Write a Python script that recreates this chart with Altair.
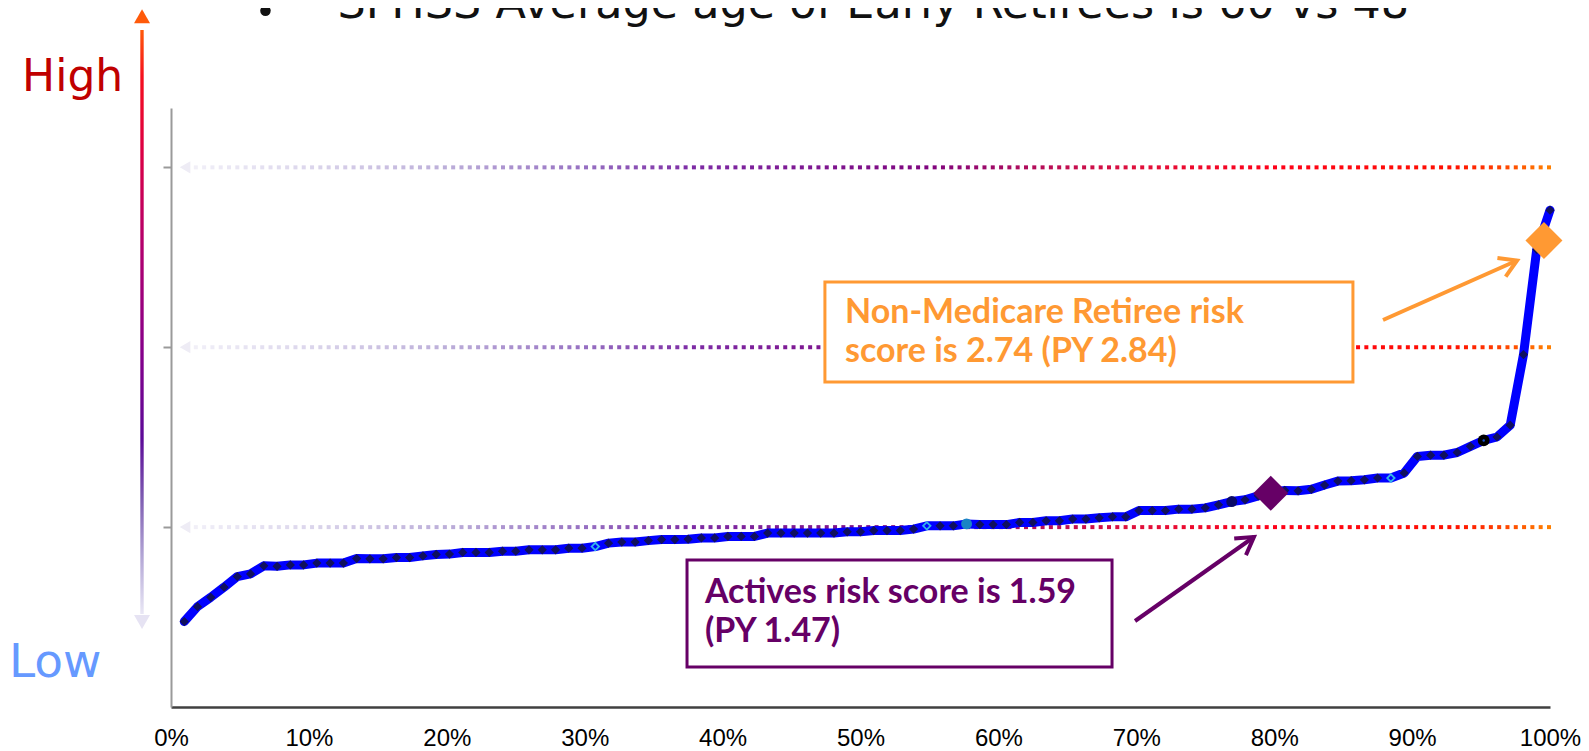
import altair as alt
import numpy as np
import pandas as pd

# ---------------- data ----------------
# risk curve: one value per ranked point (104 points, evenly spaced 1..100%)
risk_values = [
    0.475, 0.558, 0.610, 0.666, 0.725, 0.740, 0.785, 0.782, 0.790, 0.790,
    0.800, 0.800, 0.800, 0.825, 0.824, 0.824, 0.831, 0.831, 0.840, 0.848,
    0.850, 0.859, 0.859, 0.859, 0.866, 0.866, 0.874, 0.874, 0.874, 0.883,
    0.883, 0.892, 0.911, 0.917, 0.917, 0.925, 0.931, 0.931, 0.933, 0.940,
    0.940, 0.948, 0.948, 0.948, 0.967, 0.967, 0.967, 0.967, 0.967, 0.967,
    0.974, 0.974, 0.981, 0.981, 0.981, 0.989, 1.007, 1.007, 1.007, 1.018,
    1.014, 1.014, 1.014, 1.026, 1.026, 1.035, 1.035, 1.045, 1.045, 1.052,
    1.057, 1.057, 1.092, 1.092, 1.092, 1.100, 1.100, 1.107, 1.124, 1.142,
    1.152, 1.174, 1.191, 1.204, 1.202, 1.210, 1.234, 1.256, 1.258, 1.263,
    1.273, 1.273, 1.301, 1.393, 1.400, 1.400, 1.415, 1.449, 1.482, 1.501,
    1.567, 1.959, 2.543, 2.762,
]
hollow_idx = [32, 57, 92]
lightblue_idx = [60]
navy_idx = [80]
black_idx = [99]

x_ticks = [0.0, 0.1, 0.2, 0.3, 0.4, 0.5, 0.6, 0.7, 0.8, 0.9, 1.0]
y_ticks = [1, 2, 3]
band_levels = [1, 2, 3]

marker_names = ["Actives", "Non-Medicare Retiree"]
marker_pct = [0.7975, 0.9956]
marker_risk = [1.188, 2.593]

title_text = "SFHSS Average age of Early Retirees is 60 vs 48"
orange_lines = ["Non-Medicare Retiree risk", "score is 2.74 (PY 2.84)"]
purple_lines = ["Actives risk score is 1.59", "(PY 1.47)"]

# ---------------- styling ----------------
W, H = 1379, 599
xs = alt.Scale(domain=[0, 1], nice=False, zero=False)
ys = alt.Scale(domain=[0, 3.33], nice=False, zero=False)
x_axis = alt.Axis(values=x_ticks, format=".0%", title=None, grid=False, ticks=True,
                  tickSize=0, domainColor="#404040", domainWidth=2.5,
                  labelFont="Liberation Sans", labelFontSize=24, labelColor="#000000",
                  labelPadding=38, labelBaseline="alphabetic", labelFlush=False,
                  labelOverlap=False, labelBound=False)
y_axis = alt.Axis(values=y_ticks, labels=False, title=None, grid=False,
                  domainColor="#9a9a9a", domainWidth=2, tickColor="#9a9a9a",
                  tickWidth=2, tickSize=8)


def X(f):
    return alt.X(f, type="quantitative", scale=xs, axis=x_axis)


def Y(f):
    return alt.Y(f, type="quantitative", scale=ys, axis=y_axis)


N = len(risk_values)
curve = pd.DataFrame({"pct": [(i + 1) / N for i in range(N)],
                      "risk": risk_values, "k": list(range(1, N + 1))})
special = hollow_idx + lightblue_idx + navy_idx + black_idx

# dotted gradient reference lines (dots drawn as small squares)
grad_offsets = [0.0, 0.1, 0.2, 0.3, 0.38, 0.55, 0.62, 0.7, 0.8, 0.93, 0.97, 1.0]
grad_colors = ["#f5f4fa", "#dcd6ec", "#bcaed9", "#9670c2", "#7d2aa4", "#7f057f",
               "#b00d5c", "#e0103c", "#ff0018", "#ff1000", "#ff4a00", "#ff8000"]
dot_x = np.arange(0.018, 1.0017, 0.00602)
dots = pd.DataFrame([(x, lv) for lv in band_levels for x in dot_x], columns=["x", "level"])

dots_layer = alt.Chart(dots).mark_square(size=16, opacity=1, filled=True).encode(
    X("x"), Y("level"),
    color=alt.Color("x:Q", scale=alt.Scale(domain=grad_offsets, range=grad_colors,
                                           interpolate="rgb"), legend=None))
heads_left = alt.Chart(pd.DataFrame({"x": [0.0102] * 3, "level": band_levels})).mark_point(
    shape="triangle-left", filled=True, size=150, color="#eeecf5", opacity=1).encode(
    X("x"), Y("level"))


def box(x1, x2, y1, y2, col):
    return alt.Chart(pd.DataFrame({"x1": [x1], "x2": [x2], "y1": [y1], "y2": [y2]})).mark_rect(
        fill="white", stroke=col, strokeWidth=3).encode(
        X("x1"), alt.X2("x2"), Y("y1"), alt.Y2("y2"))


orange_box = box(0.4742, 0.8571, 1.8066, 2.3624, "#ff9933")
purple_box = box(0.3742, 0.6824, 0.2223, 0.8171, "#660066")

line = alt.Chart(curve).mark_line(color="#0000ff", strokeWidth=9, strokeCap="round",
                                  strokeJoin="round").encode(X("pct"), Y("risk"))
diam = alt.Chart(curve).transform_filter(
    ~alt.FieldOneOfPredicate(field="k", oneOf=special)).mark_point(
    shape="diamond", filled=True, size=85, color="#10105e", opacity=1).encode(X("pct"), Y("risk"))


def special_layer(idx, **kw):
    return alt.Chart(curve).transform_filter(
        alt.FieldOneOfPredicate(field="k", oneOf=idx)).mark_point(opacity=1, **kw).encode(
        X("pct"), Y("risk"))


hollow = special_layer(hollow_idx, shape="diamond", filled=False, size=55,
                       color="#33b5e8", strokeWidth=1.8)
lblue = special_layer(lightblue_idx, shape="circle", filled=True, size=120, color="#1a84c4")
navy = special_layer(navy_idx, shape="circle", filled=True, size=120, color="#0a0a66")
blk = special_layer(black_idx, shape="circle", filled=True, size=140, color="#000000")
blk_c = special_layer(black_idx, shape="circle", filled=True, size=6, color="#1a50d0")

big_p = alt.Chart(pd.DataFrame({"pct": [marker_pct[0]], "risk": [marker_risk[0]]})).mark_point(
    shape="diamond", filled=True, size=1225, color="#660066", opacity=1).encode(X("pct"), Y("risk"))
big_o = alt.Chart(pd.DataFrame({"pct": [marker_pct[1]], "risk": [marker_risk[1]]})).mark_point(
    shape="diamond", filled=True, size=1369, color="#ff9933", opacity=1).encode(X("pct"), Y("risk"))


def arrow(x1, y1, x2, y2, ang, col):
    d = pd.DataFrame({"x1": [x1], "y1": [y1], "x2": [x2], "y2": [y2]})
    shaft = alt.Chart(d).mark_rule(color=col, strokeWidth=4).encode(
        X("x1"), Y("y1"), alt.X2("x2"), alt.Y2("y2"))
    head = alt.Chart(d).mark_point(shape="M-0.6,1L0,0L0.6,1", filled=False, strokeWidth=4,
                                   size=1150, angle=ang, color=col, opacity=1).encode(
        X("x2"), Y("y2"))
    return shaft + head


arrow_o = arrow(0.8789, 2.1514, 0.9761, 2.4822, 66.06, "#ff9933")
arrow_p = arrow(0.6991, 0.4781, 0.7853, 0.9451, 54.78, "#660066")

# vertical High/Low gradient arrow at the left
v_grad = alt.Gradient(gradient="linear", x1=0, x2=0, y1=0, y2=1, stops=[
    alt.GradientStop(offset=0.0, color="#ff5a0a"),
    alt.GradientStop(offset=0.08, color="#f5101e"),
    alt.GradientStop(offset=0.2, color="#dd0042"),
    alt.GradientStop(offset=0.38, color="#b0006f"),
    alt.GradientStop(offset=0.55, color="#86008a"),
    alt.GradientStop(offset=0.7, color="#5c0a98"),
    alt.GradientStop(offset=0.8, color="#7d5bb1"),
    alt.GradientStop(offset=0.9, color="#b2a5d5"),
    alt.GradientStop(offset=1.0, color="#e9e7f5"),
])
v_shaft = alt.Chart(pd.DataFrame({"x1": [-0.02226], "x2": [-0.0198], "y1": [3.764], "y2": [0.517]})).mark_rect(
    color=v_grad).encode(X("x1"), alt.X2("x2"), Y("y1"), alt.Y2("y2"))
v_top = alt.Chart(pd.DataFrame({"x": [-0.0210], "y": [3.84]})).mark_point(
    shape="triangle-up", filled=True, size=256, color="#ff5a0a", opacity=1).encode(X("x"), Y("y"))
v_bot = alt.Chart(pd.DataFrame({"x": [-0.0210], "y": [0.4725]})).mark_point(
    shape="triangle-down", filled=True, size=256, color="#e6e3f3", opacity=1).encode(X("x"), Y("y"))


def texts(xv, yv, tv, **kw):
    d = pd.DataFrame({"x": xv, "y": yv, "t": tv})
    return alt.Chart(d).mark_text(align="left", baseline="alphabetic", **kw).encode(
        X("x"), Y("y"), text="t:N")


t_orange = texts([0.4888, 0.4888], [2.133, 1.920], orange_lines, font="Lato", fontSize=34,
                 fontWeight="bold", color="#ff9933")
t_purple = texts([0.3872, 0.3872], [0.5765, 0.363], purple_lines, font="Lato", fontSize=34,
                 fontWeight="bold", color="#660066")
t_high = texts([-0.1080], [3.4245], ["High"], font="DejaVu Sans", fontSize=44, color="#c00000")
t_low = texts([-0.1175], [0.1668], ["Low"], font="DejaVu Sans", fontSize=47, color="#6699ff")
t_title = texts([0.1207], [3.833], [title_text], font="DejaVu Sans", fontSize=44.5,
                color="#111111")
bullet = alt.Chart(pd.DataFrame({"x": [0.0685], "y": [3.87]})).mark_point(
    shape="circle", filled=True, size=110, color="#111111", opacity=1).encode(X("x"), Y("y"))

chart = alt.layer(
    dots_layer, heads_left, orange_box, purple_box, line, diam, hollow, lblue, navy, blk, blk_c,
    big_p, big_o, arrow_o, arrow_p, v_shaft, v_top, v_bot,
    t_orange, t_purple, t_high, t_low, t_title, bullet,
).properties(
    width=W, height=H,
    padding={"left": 163, "top": 100, "right": 31, "bottom": 50},
    autosize=alt.AutoSizeParams(type="none"),
    background="white",
).configure_view(stroke=None)

chart.save("out.html", embed_options={"renderer": "svg", "actions": False})
